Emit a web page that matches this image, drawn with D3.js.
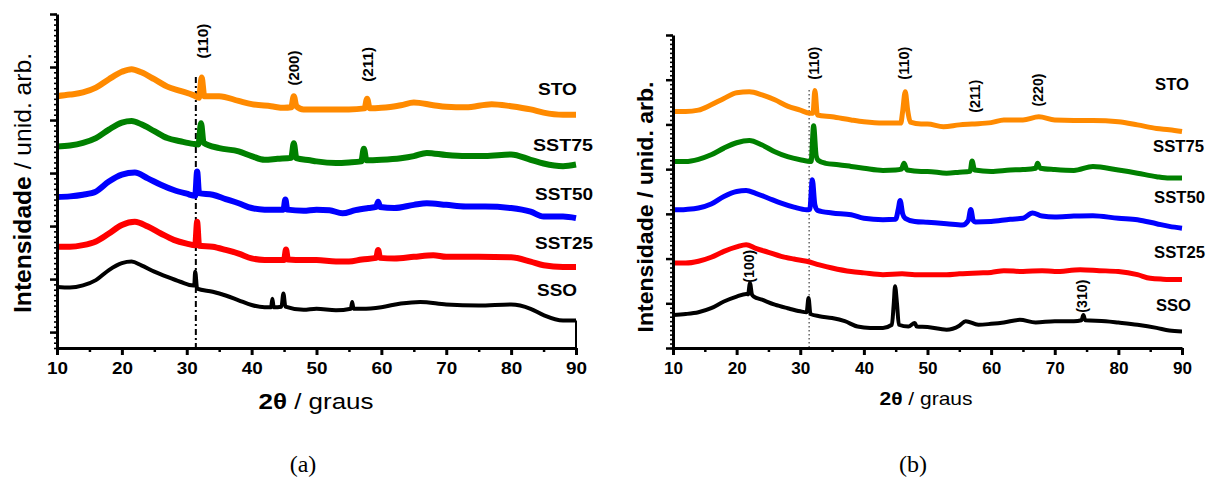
<!DOCTYPE html>
<html><head><meta charset="utf-8">
<script src="https://cdn.jsdelivr.net/npm/d3@7"></script>
<style>
body{margin:0;background:#fff;}
svg{display:block;font-family:"Liberation Sans",Arial,Helvetica,sans-serif;}
</style></head>
<body>
<svg id="c" width="1216" height="480"></svg>
<script>
// ---------- DATA ----------
const seriesNames = ["STO","SST75","SST50","SST25","SSO"];
const seriesColors = ["#ff8a00","#008000","#0000ff","#ff0000","#000000"];
const xTicks = [10,20,30,40,50,60,70,80,90];

// Panel (a) — [2θ, intensity (arb.)]
const aSTO = [[10,4.45],[12,4.48],[14,4.52],[16,4.61],[18,4.77],[20,4.91],[21.5,4.96],[23,4.9],[25,4.77],[27,4.63],[29,4.55],[31,4.47],[31.9,4.42],[32.3,4.8],[32.7,4.45],[35,4.45],[38,4.36],[40,4.3],[43,4.26],[45,4.23],[46.1,4.24],[46.5,4.45],[46.9,4.26],[48,4.2],[50,4.2],[55,4.2],[57.4,4.22],[57.8,4.4],[58.2,4.22],[60,4.23],[63,4.28],[65,4.33],[68,4.28],[70,4.25],[73,4.24],[77,4.3],[80,4.26],[83,4.2],[85,4.14],[88,4.1],[90,4.1]];
const aSST75 = [[10,3.5],[12,3.52],[14,3.57],[16,3.66],[18,3.82],[20,3.95],[21.5,3.98],[23,3.92],[25,3.79],[27,3.66],[29,3.6],[31,3.55],[31.8,3.54],[32.2,3.94],[32.6,3.57],[35,3.47],[38,3.41],[40,3.32],[42,3.25],[44,3.27],[46.1,3.29],[46.5,3.56],[46.9,3.28],[49,3.24],[50,3.22],[53,3.19],[55,3.2],[56.9,3.22],[57.3,3.46],[57.7,3.24],[60,3.25],[63,3.28],[65,3.32],[67,3.38],[70,3.34],[73,3.32],[76,3.32],[80,3.35],[83,3.25],[85,3.18],[88,3.13],[90,3.16]];
const aSST50 = [[10,2.55],[12,2.56],[14,2.59],[16,2.65],[18,2.84],[20,2.97],[22,3.01],[24,2.9],[26,2.78],[28,2.68],[30,2.61],[31.3,2.57],[31.6,3.03],[31.9,2.62],[34,2.59],[36,2.51],[38,2.43],[40,2.34],[42,2.31],[44.9,2.31],[45.2,2.5],[45.5,2.31],[48,2.29],[50,2.31],[52,2.3],[54,2.24],[56,2.3],[58,2.34],[59.2,2.36],[59.5,2.46],[59.8,2.36],[62,2.34],[65,2.4],[67,2.43],[70,2.4],[73,2.37],[76,2.37],[80,2.34],[83,2.27],[85,2.18],[88,2.18],[90,2.15]];
const aSST25 = [[10,1.61],[12,1.61],[14,1.64],[16,1.71],[18,1.86],[20,2.02],[22,2.08],[24,1.99],[26,1.86],[28,1.74],[30,1.67],[31.3,1.64],[31.6,2.08],[31.9,1.63],[34,1.61],[36,1.55],[38,1.48],[40,1.39],[42,1.36],[45,1.36],[45.3,1.56],[45.6,1.37],[48,1.36],[50,1.36],[53,1.33],[55,1.33],[57,1.37],[59.2,1.4],[59.5,1.55],[59.8,1.4],[62,1.39],[65,1.42],[68,1.45],[70,1.42],[75,1.42],[80,1.41],[83,1.33],[85,1.26],[88,1.23],[90,1.23]];
const aSSO = [[10,0.85],[12,0.84],[14,0.88],[16,0.98],[18,1.17],[20,1.3],[21.5,1.33],[23,1.26],[25,1.14],[27,1.04],[29,0.95],[31,0.88],[31.15,0.88],[31.3,1.14],[31.6,0.82],[34,0.76],[36,0.69],[38,0.6],[40,0.51],[42,0.47],[43,0.47],[43.2,0.63],[43.4,0.47],[44.6,0.48],[44.9,0.73],[45.2,0.48],[48,0.42],[50,0.44],[53,0.41],[55.3,0.44],[55.5,0.57],[55.7,0.44],[57,0.44],[60,0.47],[63,0.54],[66,0.57],[70,0.52],[75,0.5],[80,0.52],[83,0.44],[85,0.32],[88,0.22],[90,0.22]];
const aSSOEnd = [[90,0.22],[90,-0.3]];

// Panel (b)
const bSTO = [[10,5.29],[12,5.29],[14,5.32],[16,5.44],[18,5.58],[20,5.71],[22,5.73],[24,5.66],[26,5.55],[28,5.41],[30,5.32],[31.5,5.25],[32,5.25],[32.3,5.76],[32.7,5.21],[35,5.17],[38,5.1],[40,5.06],[43,5.03],[45.8,5.03],[46.1,5.3],[46.5,5.73],[46.9,5.3],[47.3,5.05],[49,5.01],[50,5.01],[52.5,4.95],[55,4.99],[57,5.01],[60,5.04],[62,5.1],[65,5.1],[67.5,5.17],[70,5.1],[73,5.09],[76,5.09],[80,5.06],[83,4.99],[86,4.91],[88,4.88],[90,4.84]];
const bSST75 = [[10,4.17],[12,4.17],[14,4.22],[16,4.32],[18,4.47],[20,4.59],[22,4.64],[24,4.54],[26,4.39],[28,4.28],[30,4.21],[31.7,4.17],[32.1,4.97],[32.5,4.3],[32.8,4.2],[34,4.13],[36,4.1],[38,4.06],[40,4.02],[43,3.97],[45,3.98],[45.9,4.0],[46.3,4.13],[46.8,3.98],[49,3.95],[50,3.95],[53,3.91],[55,3.93],[56.7,3.95],[57,4.18],[57.4,3.98],[60,3.95],[63,3.98],[65,3.99],[67,4.02],[67.3,4.13],[67.7,4.02],[70,3.99],[73,3.97],[76,4.06],[80,3.98],[83,3.91],[86,3.83],[88,3.8],[90,3.8]];
const bSST50 = [[10,3.09],[12,3.1],[14,3.13],[16,3.22],[18,3.39],[20,3.5],[21.5,3.52],[23,3.46],[25,3.35],[27,3.24],[29,3.15],[31,3.09],[31.5,3.1],[31.9,3.76],[32.3,3.2],[32.7,3.08],[35,3.02],[38,2.98],[40,2.9],[43,2.87],[45,2.88],[45.4,3.1],[45.7,3.3],[46.1,3.0],[46.5,2.9],[48,2.83],[50,2.81],[53,2.78],[55.5,2.75],[56.4,2.85],[56.8,3.1],[57.2,2.85],[57.5,2.82],[60,2.83],[63,2.88],[65,2.9],[66.5,3.02],[68,2.95],[70,2.93],[73,2.95],[76,2.96],[80,2.9],[83,2.87],[86,2.78],[88,2.72],[90,2.68]];
const bSST25 = [[10,1.9],[12,1.9],[14,1.94],[16,2.03],[18,2.16],[20,2.26],[21.5,2.31],[23,2.23],[25,2.14],[27,2.05],[29,1.99],[31,1.94],[33,1.86],[35,1.79],[38,1.71],[40,1.68],[43,1.64],[46,1.66],[48,1.64],[50,1.64],[53,1.64],[55,1.66],[58,1.68],[60,1.69],[62,1.73],[65,1.71],[68,1.73],[70,1.71],[74,1.75],[77,1.73],[80,1.71],[83,1.64],[85,1.56],[87,1.54],[90,1.53]];
const bSSO = [[10,0.74],[12,0.76],[14,0.8],[16,0.89],[18,1.04],[20,1.15],[21.5,1.21],[21.8,1.2],[22.1,1.45],[22.4,1.2],[22.7,1.15],[24,1.08],[26,0.97],[28,0.89],[30,0.82],[31,0.8],[31.3,1.12],[31.6,0.76],[33,0.71],[35,0.67],[37,0.6],[39,0.48],[41,0.45],[43,0.45],[44.4,0.52],[44.7,1.0],[44.9,1.38],[45.2,1.0],[45.5,0.52],[47,0.48],[48,0.56],[48.3,0.48],[50,0.47],[53,0.41],[55,0.5],[56,0.6],[58,0.52],[60,0.54],[62,0.57],[64.5,0.63],[67,0.57],[70,0.6],[73,0.6],[74.2,0.62],[74.5,0.74],[74.8,0.62],[78,0.6],[80,0.57],[83,0.52],[86,0.45],[88,0.39],[90,0.37]];

// Peak annotations: [label, 2θ, intensity of label centre]
const aPeaks = [["(110)",32.5,5.49],["(200)",46.6,4.98],["(211)",57.9,5.05]];
const bPeaks = [["(110)",32.1,6.37],["(110)",46.3,6.37],["(211)",57.4,5.63],["(220)",67.3,5.77],["(100)",21.9,1.83],["(310)",74.2,1.16]];
const aRefLine = 31.4;
const bRefLine = 31.4;

// ---------- DRAW ----------
const svg = d3.select("#c");
const font = '"Liberation Sans",Arial,Helvetica,sans-serif';
const serif = '"Liberation Serif","Times New Roman",Times,serif';

function fit(sel, len){ sel.attr("textLength",len).attr("lengthAdjust","spacingAndGlyphs"); }

function panel(cfg){
  const g = svg.append("g");
  const x = d3.scaleLinear().domain([10,90]).range([cfg.x0,cfg.x1]);
  const y = d3.scaleLinear().domain(cfg.yDom).range([cfg.yb,cfg.yt]);

  // reference line
  g.append("line").attr("x1",x(cfg.ref)).attr("x2",x(cfg.ref))
    .attr("y1",cfg.refTop).attr("y2",cfg.yb)
    .attr("stroke",cfg.refColor).attr("stroke-width",cfg.refW)
    .attr("stroke-dasharray",cfg.refDash);

  // curves
  const line = d3.line().x(d=>x(d[0])).y(d=>y(d[1])).curve(d3.curveMonotoneX);
  cfg.series.forEach((s,i)=>{
    g.append("path").datum(s).attr("d",line).attr("fill","none")
      .attr("stroke",seriesColors[i])
      .attr("stroke-width", i===4 ? cfg.blackW : cfg.lineW)
      .attr("stroke-linejoin","round");
  });
  if (cfg.end) {
    g.append("path").datum(cfg.end).attr("d",d3.line().x(d=>x(d[0])).y(d=>y(d[1])))
      .attr("fill","none").attr("stroke","#000").attr("stroke-width",2);
  }

  // axes
  const xMinor = d3.range(15,90,10);
  g.append("g").attr("transform",`translate(0,${cfg.yb})`)
    .call(d3.axisBottom(x).tickValues(xMinor).tickSize(4).tickFormat(""))
    .call(a=>{a.select(".domain").remove();a.selectAll("line").attr("stroke-width",2.5);});
  const xa = g.append("g").attr("transform",`translate(0,${cfg.yb})`)
    .call(d3.axisBottom(x).tickValues(xTicks).tickSize(7).tickSizeOuter(0).tickFormat(d3.format("d")));
  xa.select(".domain").attr("stroke-width",3);
  xa.selectAll(".tick line").attr("stroke-width",3);
  xa.selectAll(".tick text").attr("font-family",font).attr("font-size",16).attr("font-weight","bold")
    .attr("fill","#000").attr("y",15).call(fit, cfg.tickLen);

  const yMinor = d3.range(Math.ceil(cfg.yDom[0]*10), Math.floor(cfg.yDom[1]*10)+1).map(v=>v/10);
  g.append("g").attr("transform",`translate(${cfg.x0},0)`)
    .call(d3.axisLeft(y).tickValues(yMinor).tickSize(3).tickFormat(""))
    .call(a=>{a.select(".domain").remove();a.selectAll("line").attr("stroke-width",1.6);});
  const ya = g.append("g").attr("transform",`translate(${cfg.x0},0)`)
    .call(d3.axisLeft(y).tickValues(d3.range(Math.ceil(cfg.yDom[0]),cfg.yDom[1]+0.01,1)).tickSize(7).tickSizeOuter(0).tickFormat(""));
  ya.select(".domain").attr("stroke-width",3);
  ya.selectAll(".tick line").attr("stroke-width",2.5);

  // series labels
  seriesNames.forEach((n,i)=>{
    g.append("text").attr("x",cfg.labX[i]).attr("y",cfg.labY[i])
      .attr("font-family",font).attr("font-size",16).attr("font-weight","bold").attr("fill","#000").text(n)
      .call(fit, cfg.labW[i]);
  });

  // peak labels
  cfg.peaks.forEach(p=>{
    g.append("text").attr("transform",`translate(${x(p[1])},${y(p[2])}) rotate(-90)`)
      .attr("text-anchor","middle").attr("dy","0.36em")
      .attr("font-family",font).attr("font-size",14).attr("font-weight","bold").attr("fill","#000").text(p[0])
      .call(fit, cfg.peakLen);
  });

  // y title
  const yt = g.append("text").attr("transform",`translate(${cfg.ytX},${cfg.ytY}) rotate(-90)`)
    .attr("text-anchor","middle").attr("dy","0.36em")
    .attr("font-family",font).attr("font-size",cfg.ytFs).attr("fill","#000");
  yt.append("tspan").attr("font-weight","bold").text("Intensidade");
  yt.append("tspan").attr("font-weight",cfg.ytRestW).text(" / unid. arb.");
  fit(yt, cfg.ytLen);

  // x title
  const xt = g.append("text").attr("x",cfg.xtX).attr("y",cfg.xtY)
    .attr("text-anchor","middle").attr("font-family",font).attr("font-size",cfg.xtFs).attr("fill","#000");
  xt.append("tspan").attr("font-weight","bold").text("2θ");
  xt.append("tspan").text(" / graus");
  fit(xt, cfg.xtLen);

  // panel letter
  g.append("text").attr("x",cfg.letX).attr("y",472).attr("text-anchor","middle")
    .attr("font-family",serif).attr("font-size",24).attr("fill","#000").text(cfg.letter);
}

panel({x0:57,x1:576,yb:348,yt:14,yDom:[-0.3,6],ref:aRefLine,refTop:77,refColor:"#000",refW:2,refDash:"6,3,2,3",
  series:[aSTO,aSST75,aSST50,aSST25,aSSO],end:aSSOEnd,lineW:6,blackW:4,tickLen:21,
  labX:[538,533,535,535,537],labY:[95,151,200,249,296],labW:[39,60,58,58,40],peaks:aPeaks,peakLen:35,
  ytX:22.5,ytY:183,ytFs:24,ytLen:260,ytRestW:"normal",xtX:316,xtY:409,xtFs:22,xtLen:115,letX:303,letter:"(a)"});

panel({x0:673,x1:1182,yb:348,yt:35,yDom:[0,7],ref:bRefLine,refTop:90,refColor:"#666",refW:1.5,refDash:"1.5,2.5",
  series:[bSTO,bSST75,bSST50,bSST25,bSSO],lineW:5,blackW:4,tickLen:19,
  labX:[1155,1153,1154,1154,1156],labY:[90,152,203,258,311],labW:[34,51,51,51,35],peaks:bPeaks,peakLen:33,
  ytX:645,ytY:207,ytFs:22,ytLen:251,ytRestW:"bold",xtX:926,xtY:405,xtFs:19,xtLen:93,letX:913,letter:"(b)"});
</script>
</body></html>
